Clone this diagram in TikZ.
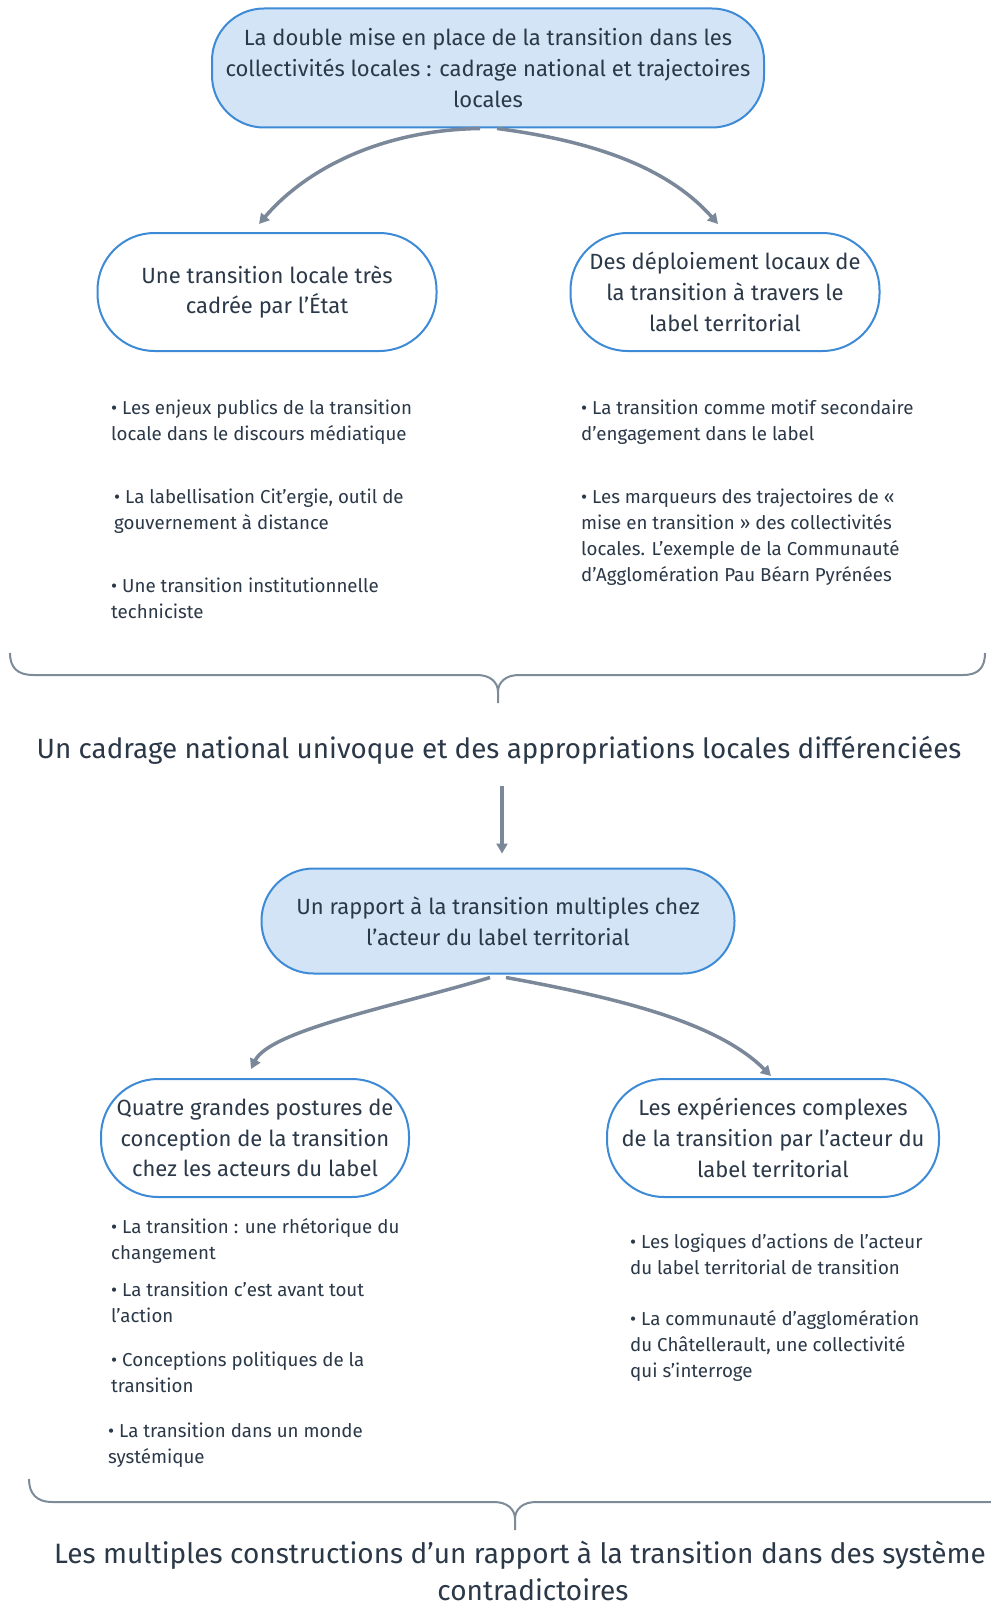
\documentclass[tikz,border=0pt]{standalone}
\usepackage{fontspec}
\setmainfont{Fira Sans}
\usetikzlibrary{arrows.meta}
\definecolor{fillblue}{HTML}{D3E4F6}
\definecolor{lineblue}{HTML}{3D8AD6}
\definecolor{textdark}{HTML}{2B3848}
\definecolor{arrowgray}{HTML}{7A8899}
\definecolor{bracegray}{HTML}{7D8B99}
\newcommand{\nodefs}{\fontsize{22}{30.8}\selectfont}
\newcommand{\bulfs}{\fontsize{18.7}{26.2}\selectfont}
\newcommand{\headfs}{\fontsize{27.8}{38}\selectfont}
\newcommand{\headfsb}{\fontsize{28}{38}\selectfont}
\tikzset{
  mainbox/.style={draw=lineblue, line width=2pt, fill=fillblue, rounded corners=52pt, align=center, font=\nodefs, text=textdark, inner sep=0pt},
  subbox/.style={draw=lineblue, line width=2pt, fill=white, rounded corners=57pt, align=center, font=\nodefs, text=textdark, inner sep=0pt},
  bullets/.style={align=left, anchor=west, font=\bulfs, text=textdark, inner sep=0pt},
  heading/.style={align=center, font=\headfs, text=textdark, inner sep=0pt},
  conn/.style={draw=arrowgray, line width=3.5pt, -{Triangle[length=10pt,width=11pt]}},
  bracepath/.style={draw=bracegray, line width=2pt}
}
\begin{document}
\begin{tikzpicture}[x=1pt,y=-1pt]
\useasboundingbox[fill=white] (0,0) rectangle (990,1608);

% top level
\node[mainbox, minimum width=552pt, minimum height=119pt] (top) at (488,68)
  {La double mise en place de la transition dans les\\collectivités locales : cadrage national et trajectoires\\locales};

\node[subbox, minimum width=339pt, minimum height=118pt] (l1) at (267,292)
  {Une transition locale très\\cadrée par l’État};
\node[subbox, minimum width=309pt, minimum height=118pt] (r1) at (725,292)
  {Des déploiement locaux de\\la transition à travers le\\label territorial};

\coordinate (tl) at ([xshift=-8pt]top.south);
\coordinate (tr) at ([xshift=9pt]top.south);
\coordinate (l1t) at ([xshift=-8pt,yshift=8pt]l1.north);
\coordinate (r1t) at ([xshift=-7pt,yshift=8pt]r1.north);
\draw[conn] (tl) .. controls (380,130) and (305,170) .. (l1t);
\draw[conn] (tr) .. controls (600,142) and (670,170) .. (r1t);

% bullets upper
\node[bullets] (b1) at (111,422.5) {• Les enjeux publics de la transition\\locale dans le discours médiatique};
\node[bullets] (b2) at (114,511) {• La labellisation Cit’ergie, outil de\\gouvernement à distance};
\node[bullets] (b3) at (111,598) {• Une transition institutionnelle\\techniciste};
\node[bullets] (b4) at (581,422.5) {• La transition comme motif secondaire\\d'engagement dans le label};
\node[bullets] (b5) at (581,537) {• Les marqueurs des trajectoires de «\\mise en transition » des collectivités\\locales. L'exemple de la Communauté\\d'Agglomération Pau Béarn Pyrénées};

% brace 1
\draw[bracepath] (10,653) .. controls (10,668) and (18,675) .. (33,675) -- (477,675)
  .. controls (490,675) and (498,682) .. (498,692) -- (498,703)
  (498,692) .. controls (498,682) and (506,675) .. (519,675) -- (963,675)
  .. controls (978,675) and (985,668) .. (985,653);

\node[heading] (h1) at (499,750) {Un cadrage national univoque et des appropriations locales différenciées};

\node[mainbox, minimum width=473pt, minimum height=105pt] (mid) at (498,921)
  {Un rapport à la transition multiples chez\\l’acteur du label territorial};

\coordinate (vs) at ([yshift=-22pt]h1.south -| 502,0);
\draw[conn, shorten >=14pt] (vs) -- (vs |- mid.north);

% lower level
\node[subbox, minimum width=308pt, minimum height=118pt] (l2) at (255,1138)
  {Quatre grandes postures de\\conception de la transition\\chez les acteurs du label};
\node[subbox, minimum width=332pt, minimum height=118pt] (r2) at (773,1138)
  {Les expériences complexes\\de la transition par l'acteur du\\label territorial};

\coordinate (ml) at ([xshift=-8pt,yshift=-3pt]mid.south);
\coordinate (mr) at ([xshift=8pt,yshift=-3pt]mid.south);
\coordinate (l2t) at ([xshift=-4pt,yshift=9pt]l2.north);
\coordinate (r2t) at ([xshift=-2pt,yshift=2pt]r2.north);
\draw[conn] (ml) .. controls (400,1005) and (270,1030) .. (l2t);
\draw[conn] (mr) .. controls (630,1000) and (720,1025) .. (r2t);

\node[bullets] (c1) at (111,1241) {• La transition : une rhétorique du\\changement};
\node[bullets] (c2) at (111,1302.5) {• La transition c’est avant tout\\l’action};
\node[bullets] (c3) at (111,1372) {• Conceptions politiques de la\\transition};
\node[bullets] (c4) at (108,1445) {• La transition dans un monde\\systémique};
\node[bullets] (d1) at (630,1254) {• Les logiques d’actions de l’acteur\\du label territorial de transition};
\node[bullets] (d2) at (630,1346) {• La communauté d'agglomération\\du Châtellerault, une collectivité\\qui s'interroge};

% brace 2
\draw[bracepath] (29,1479) .. controls (29,1494) and (37,1502) .. (52,1502) -- (494,1502)
  .. controls (507,1502) and (515,1509) .. (515,1519) -- (515,1530)
  (515,1519) .. controls (515,1509) and (523,1502) .. (536,1502) -- (1000,1502);

\node[heading, font=\headfsb, anchor=north west] (h2a) at (54,1541) {Les multiples constructions d’un rapport à la transition dans des système};
\node[heading, font=\headfsb, anchor=north] (h2b) at (533,1578) {contradictoires};
\end{tikzpicture}
\end{document}
